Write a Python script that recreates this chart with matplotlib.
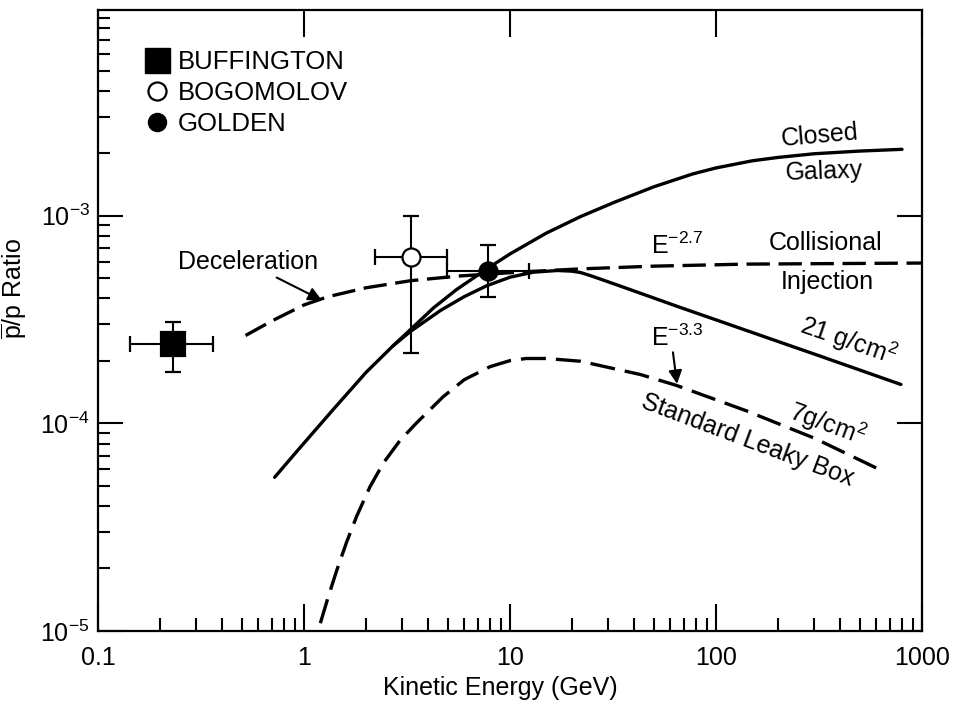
import matplotlib.pyplot as plt
from matplotlib.lines import Line2D
from matplotlib.ticker import NullFormatter

plt.rcParams['font.family'] = ['Liberation Sans', 'DejaVu Sans']
plt.rcParams['mathtext.fontset'] = 'custom'
plt.rcParams['mathtext.rm'] = 'Liberation Sans'
plt.rcParams['mathtext.it'] = 'Liberation Sans:italic'
plt.rcParams['mathtext.bf'] = 'Liberation Sans:bold'

# --- Daten ---

# Closed Galaxy (durchgezogen)
galaxy_e = [2.7, 3.0, 4.25, 5.5, 7.7, 10.0, 15.0, 22.0, 32.0, 50.0, 77.0, 100.0,
            150.0, 200.0, 300.0, 500.0, 800.0]
galaxy_r = [2.36e-4, 2.6e-4, 3.6e-4, 4.41e-4, 5.54e-4, 6.55e-4, 8.25e-4, 9.91e-4,
            1.16e-3, 1.38e-3, 1.59e-3, 1.70e-3, 1.84e-3, 1.91e-3, 1.99e-3, 2.05e-3, 2.09e-3]

# 21 g/cm2 (durchgezogen)
g21_e = [0.72, 0.95, 1.4, 2.0, 2.7, 3.3, 4.6, 6.0, 7.7, 10.0, 13.0, 17.0, 20.0, 22.0,
         25.0, 34.0, 67.0, 105.0, 205.0, 320.0, 790.0]
g21_r = [5.5e-5, 7.58e-5, 1.18e-4, 1.76e-4, 2.36e-4, 2.78e-4, 3.5e-4, 4.08e-4, 4.6e-4,
         5.06e-4, 5.35e-4, 5.45e-4, 5.41e-4, 5.33e-4, 5.12e-4, 4.6e-4, 3.62e-4, 3.1e-4,
         2.46e-4, 2.11e-4, 1.54e-4]

# Collisional Injection, E^-2.7 (gestrichelt)
coll_e = [0.52, 0.7, 1.0, 1.3, 2.0, 3.3, 5.7, 12.0, 22.0, 50.0, 140.0, 1000.0]
coll_r = [2.65e-4, 3.12e-4, 3.72e-4, 4.07e-4, 4.5e-4, 4.87e-4, 5.13e-4, 5.38e-4,
          5.55e-4, 5.72e-4, 5.85e-4, 5.92e-4]

# Standard Leaky Box, 7 g/cm2 (gestrichelt)
leaky_e = [1.2, 1.31, 1.44, 1.61, 1.8, 2.09, 2.43, 2.92, 3.5, 4.74, 6.0, 8.0, 10.0,
           12.0, 15.0, 22.0, 43.0, 64.0, 140.0, 300.0, 600.0]
leaky_r = [1.09e-5, 1.456e-5, 1.952e-5, 2.68e-5, 3.565e-5, 4.95e-5, 6.45e-5, 8.26e-5,
           1.0e-4, 1.345e-4, 1.624e-4, 1.876e-4, 2.006e-4, 2.054e-4, 2.054e-4, 1.992e-4,
           1.719e-4, 1.526e-4, 1.151e-4, 8.49e-5, 6.1e-5]

# Messpunkte: Wert, x-Bereich, y-Bereich
exp_names = ["BUFFINGTON", "BOGOMOLOV", "GOLDEN"]
exp_e = [0.23, 3.3, 7.85]
exp_r = [2.4e-4, 6.35e-4, 5.4e-4]
exp_e_lo = [0.143, 2.21, 4.93]
exp_e_hi = [0.36, 4.93, 12.3]
exp_r_lo = [1.76e-4, 2.19e-4, 4.07e-4]
exp_r_hi = [3.09e-4, 1.0e-3, 7.2e-4]

xtick_vals = [0.1, 1, 10, 100, 1000]
xtick_labels = ["0.1", "1", "10", "100", "1000"]
ytick_vals = [1e-5, 1e-4, 1e-3]
ytick_labels = [r"10$^{-5}$", r"10$^{-4}$", r"10$^{-3}$"]

# --- Plot ---

fig = plt.figure(figsize=(9.63, 7.04), dpi=100)
ax = fig.add_axes([0.1018, 0.1037, 0.8556, 0.8821])
ax.set_xscale('log')
ax.set_yscale('log')

lw = 2.4
ax.plot(galaxy_e, galaxy_r, color='black', lw=lw, solid_capstyle='round')
ax.plot(g21_e, g21_r, color='black', lw=lw, solid_capstyle='round')
ax.plot(coll_e, coll_r, color='black', lw=lw, dashes=(7, 2.6), dash_capstyle='butt')
ax.plot(leaky_e, leaky_r, color='black', lw=lw, dashes=(7.5, 3.0), dash_capstyle='butt')

styles = [dict(fmt='s', ms=17, mfc='black'),
          dict(fmt='o', ms=13, mfc='white'),
          dict(fmt='o', ms=13, mfc='black')]
for i, st in enumerate(styles):
    xerr = [[exp_e[i] - exp_e_lo[i]], [exp_e_hi[i] - exp_e[i]]]
    yerr = [[exp_r[i] - exp_r_lo[i]], [exp_r_hi[i] - exp_r[i]]]
    ax.errorbar([exp_e[i]], [exp_r[i]], xerr=xerr, yerr=yerr, fmt=st['fmt'],
                ms=st['ms'], mfc=st['mfc'], mec='black', mew=1.6, color='black',
                elinewidth=1.5, capsize=6, capthick=1.5, zorder=5)

# Legende
handles = [Line2D([], [], ls='none', marker='s', ms=18, mfc='black', mec='black'),
           Line2D([], [], ls='none', marker='o', ms=13, mfc='white', mec='black', mew=1.6),
           Line2D([], [], ls='none', marker='o', ms=13, mfc='black', mec='black')]
ax.legend(handles, exp_names, loc='upper left', bbox_to_anchor=(0.056, 0.936),
          frameon=False, fontsize=18.5, handlelength=1.0, handletextpad=0.3,
          borderpad=0, borderaxespad=0, labelspacing=0.27)

# Beschriftungen der Kurven
fs = 18
ax.text(320, 2.44e-3, "Closed", fontsize=fs, ha='center', va='center', rotation=5)
ax.text(334, 1.64e-3, "Galaxy", fontsize=fs, ha='center', va='center', rotation=2)
ax.text(65, 7.2e-4, r"E$^{-2.7}$", fontsize=fs, ha='center', va='center')
ax.text(342, 7.4e-4, "Collisional", fontsize=fs, ha='center', va='center')
ax.text(346, 4.79e-4, "Injection", fontsize=fs, ha='center', va='center')
ax.text(437, 2.51e-4, r"21 g/cm$^2$", fontsize=fs, ha='center', va='center', rotation=-19)
ax.text(65, 2.58e-4, r"E$^{-3.3}$", fontsize=fs, ha='center', va='center')
ax.text(350, 1.0e-4, r"7g/cm$^2$", fontsize=fs, ha='center', va='center', rotation=-20)
ax.text(143, 8.3e-5, "Standard Leaky Box", fontsize=fs, ha='center', va='center', rotation=-20.5)
ax.text(0.535, 5.98e-4, "Deceleration", fontsize=fs, ha='center', va='center')

arrow = dict(arrowstyle='-|>', lw=1.5, color='black', mutation_scale=20, shrinkA=0, shrinkB=0)
ax.annotate('', xy=(1.22, 3.92e-4), xytext=(0.737, 5.04e-4), arrowprops=arrow)
ax.annotate('', xy=(64.7, 1.55e-4), xytext=(61.8, 2.2e-4), arrowprops=arrow)

# Achsen
ax.set_xlim(0.1, 1000)
ax.set_ylim(1e-5, 9.8e-3)
ax.set_xticks(xtick_vals, labels=xtick_labels)
ax.set_yticks(ytick_vals, labels=ytick_labels)
ax.xaxis.set_minor_formatter(NullFormatter())
ax.yaxis.set_minor_formatter(NullFormatter())
ax.tick_params(axis='x', which='major', direction='in', length=19.5, width=1.5,
               top=True, labelsize=18, pad=11)
ax.tick_params(axis='x', which='minor', direction='in', length=9.5, width=1.5, top=False)
ax.tick_params(axis='y', which='major', direction='in', length=18, width=1.5,
               right=True, labelsize=18, pad=6)
ax.tick_params(axis='y', which='minor', direction='in', length=8.5, width=1.5, right=False)
for sp in ax.spines.values():
    sp.set_linewidth(1.6)

ax.set_xlabel("Kinetic Energy (GeV)", fontsize=18)
ax.set_ylabel(r"$\overline{\rm p}$/p Ratio", fontsize=18)
ax.xaxis.set_label_coords(0.488, -0.073)
ax.yaxis.set_label_coords(-0.084, 0.552)

fig.savefig("out.png", dpi=100)
